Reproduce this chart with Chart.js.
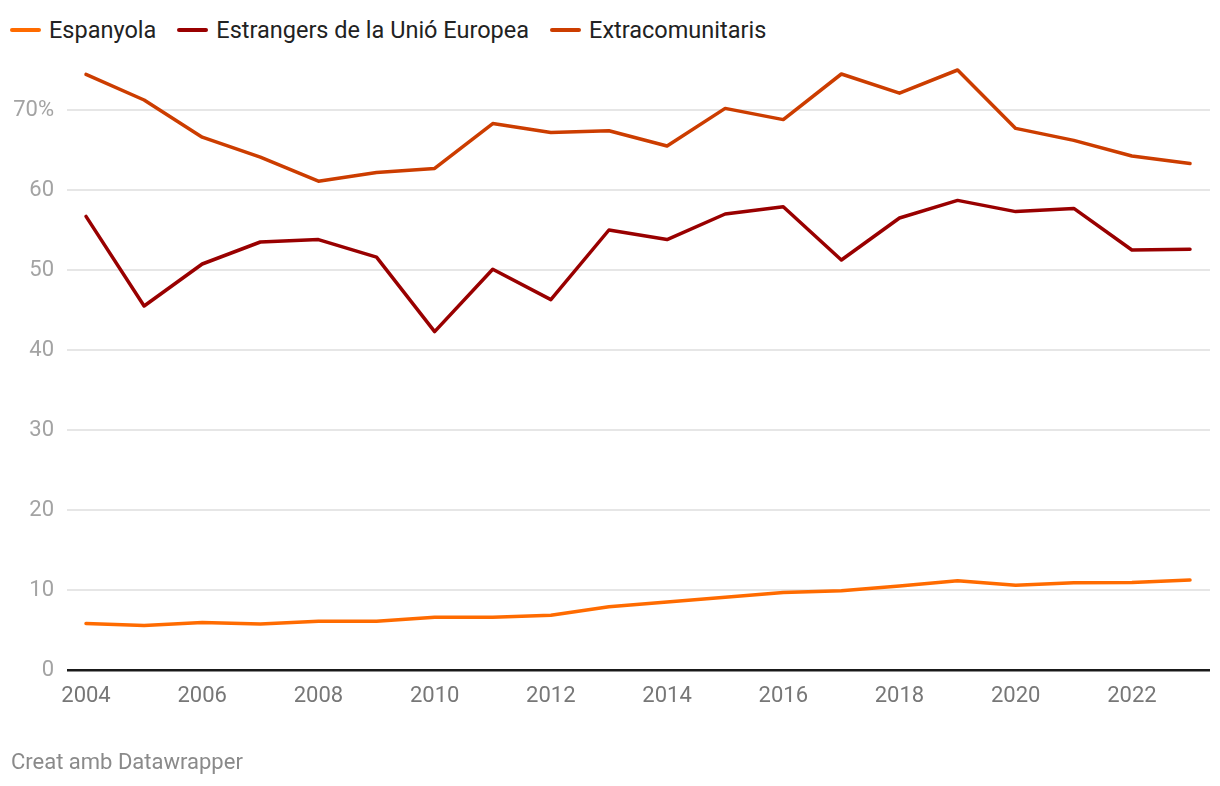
<!DOCTYPE html>
<html lang="ca">
<head>
<meta charset="utf-8">
<title>Taxa per nacionalitat</title>
<script src="https://cdn.jsdelivr.net/npm/chart.js@4/dist/chart.umd.min.js"></script>
<style>
  html, body { margin: 0; padding: 0; background: #fff; }
  body { width: 1220px; height: 786px; position: relative; overflow: hidden; font-family: Roboto, 'Noto Sans', sans-serif; }
  #legend { position: absolute; left: 10px; top: 16px; display: flex; align-items: center; font-size: 23.5px; color: #222; }
  #legend .item { display: flex; align-items: center; margin-right: 21px; }
  #legend .swatch { width: 31px; height: 4px; border-radius: 2px; margin-right: 8px; }
  #wrap { position: absolute; left: 0; top: 0; width: 1220px; height: 786px; }
  #footer { position: absolute; left: 11px; top: 749px; font-size: 22px; color: #8a8a8a; }
</style>
</head>
<body>
<div id="legend"></div>
<div id="wrap"><canvas id="chart"></canvas></div>
<div id="footer">Creat amb Datawrapper</div>

<script>
'use strict';

/* ── Data ───────────────────────────────────────────────────────── */
const years = [2004, 2005, 2006, 2007, 2008, 2009, 2010, 2011, 2012, 2013,
               2014, 2015, 2016, 2017, 2018, 2019, 2020, 2021, 2022, 2023];

const espanyola = [5.8, 5.55, 5.95, 5.75, 6.1, 6.1, 6.6, 6.6, 6.85, 7.9,
                   8.5, 9.1, 9.7, 9.9, 10.5, 11.15, 10.6, 10.9, 10.95, 11.25];

const estrangersUE = [56.7, 45.5, 50.75, 53.5, 53.8, 51.6, 42.3, 50.1, 46.3, 55.0,
                      53.8, 57.0, 57.9, 51.25, 56.5, 58.7, 57.3, 57.7, 52.5, 52.6];

const extracomunitaris = [74.45, 71.25, 66.6, 64.1, 61.1, 62.2, 62.7, 68.3, 67.2, 67.4,
                          65.5, 70.2, 68.8, 74.5, 72.1, 75.0, 67.7, 66.2, 64.25, 63.3];

const xTicks = [2004, 2006, 2008, 2010, 2012, 2014, 2016, 2018, 2020, 2022];
const yTicks = [0, 10, 20, 30, 40, 50, 60, 70];

const seriesNames  = ['Espanyola', 'Estrangers de la Unió Europea', 'Extracomunitaris'];
const seriesColors = ['#ff6b00', '#990000', '#cc3d00'];

/* ── Legend ─────────────────────────────────────────────────────── */
const legend = document.getElementById('legend');
seriesNames.forEach((name, i) => {
  const item = document.createElement('div');
  item.className = 'item';
  item.innerHTML = `<span class="swatch" style="background:${seriesColors[i]}"></span><span>${name}</span>`;
  legend.appendChild(item);
});

/* ── Chart ──────────────────────────────────────────────────────── */
const toPoints = arr => arr.map((v, i) => ({ x: years[i], y: v }));

const makeSet = (label, values, color) => ({
  label,
  data: toPoints(values),
  borderColor: color,
  backgroundColor: color,
  borderWidth: 3.5,
  pointRadius: 0,
  pointHoverRadius: 0,
  tension: 0,
  borderCapStyle: 'round',
  borderJoinStyle: 'round',
});

new Chart(document.getElementById('chart'), {
  type: 'line',
  data: {
    datasets: [
      makeSet(seriesNames[0], espanyola, seriesColors[0]),
      makeSet(seriesNames[1], estrangersUE, seriesColors[1]),
      makeSet(seriesNames[2], extracomunitaris, seriesColors[2]),
    ]
  },
  options: {
    responsive: true,
    maintainAspectRatio: false,
    animation: false,
    layout: { padding: { top: 62, right: 10, bottom: 76, left: 0 } },
    plugins: { legend: { display: false }, tooltip: { enabled: false } },
    scales: {
      x: {
        type: 'linear',
        min: 2003.673,
        max: 2023.344,
        afterBuildTicks: s => { s.ticks = xTicks.map(v => ({ value: v })); },
        afterFit: s => { s.height = 40; },
        grid: { display: false, drawTicks: false },
        border: { display: false },
        ticks: {
          padding: 13,
          maxRotation: 0,
          color: '#777',
          font: { family: 'Roboto', size: 22 },
          callback: v => String(v),
        }
      },
      y: {
        min: 0,
        max: 76,
        afterBuildTicks: s => { s.ticks = yTicks.map(v => ({ value: v })); },
        afterFit: s => { s.width = 67; },
        grid: {
          drawTicks: false,
          color: ctx => ctx.tick && ctx.tick.value === 0 ? '#1a1a1a' : '#e6e6e6',
          lineWidth: ctx => ctx.tick && ctx.tick.value === 0 ? 2.5 : 2,
        },
        border: { display: false },
        ticks: {
          padding: 13,
          color: '#a3a3a3',
          font: { family: 'Roboto', size: 22 },
          callback: v => v === 70 ? v + '%' : String(v),
        }
      }
    }
  }
});
</script>
</body>
</html>
